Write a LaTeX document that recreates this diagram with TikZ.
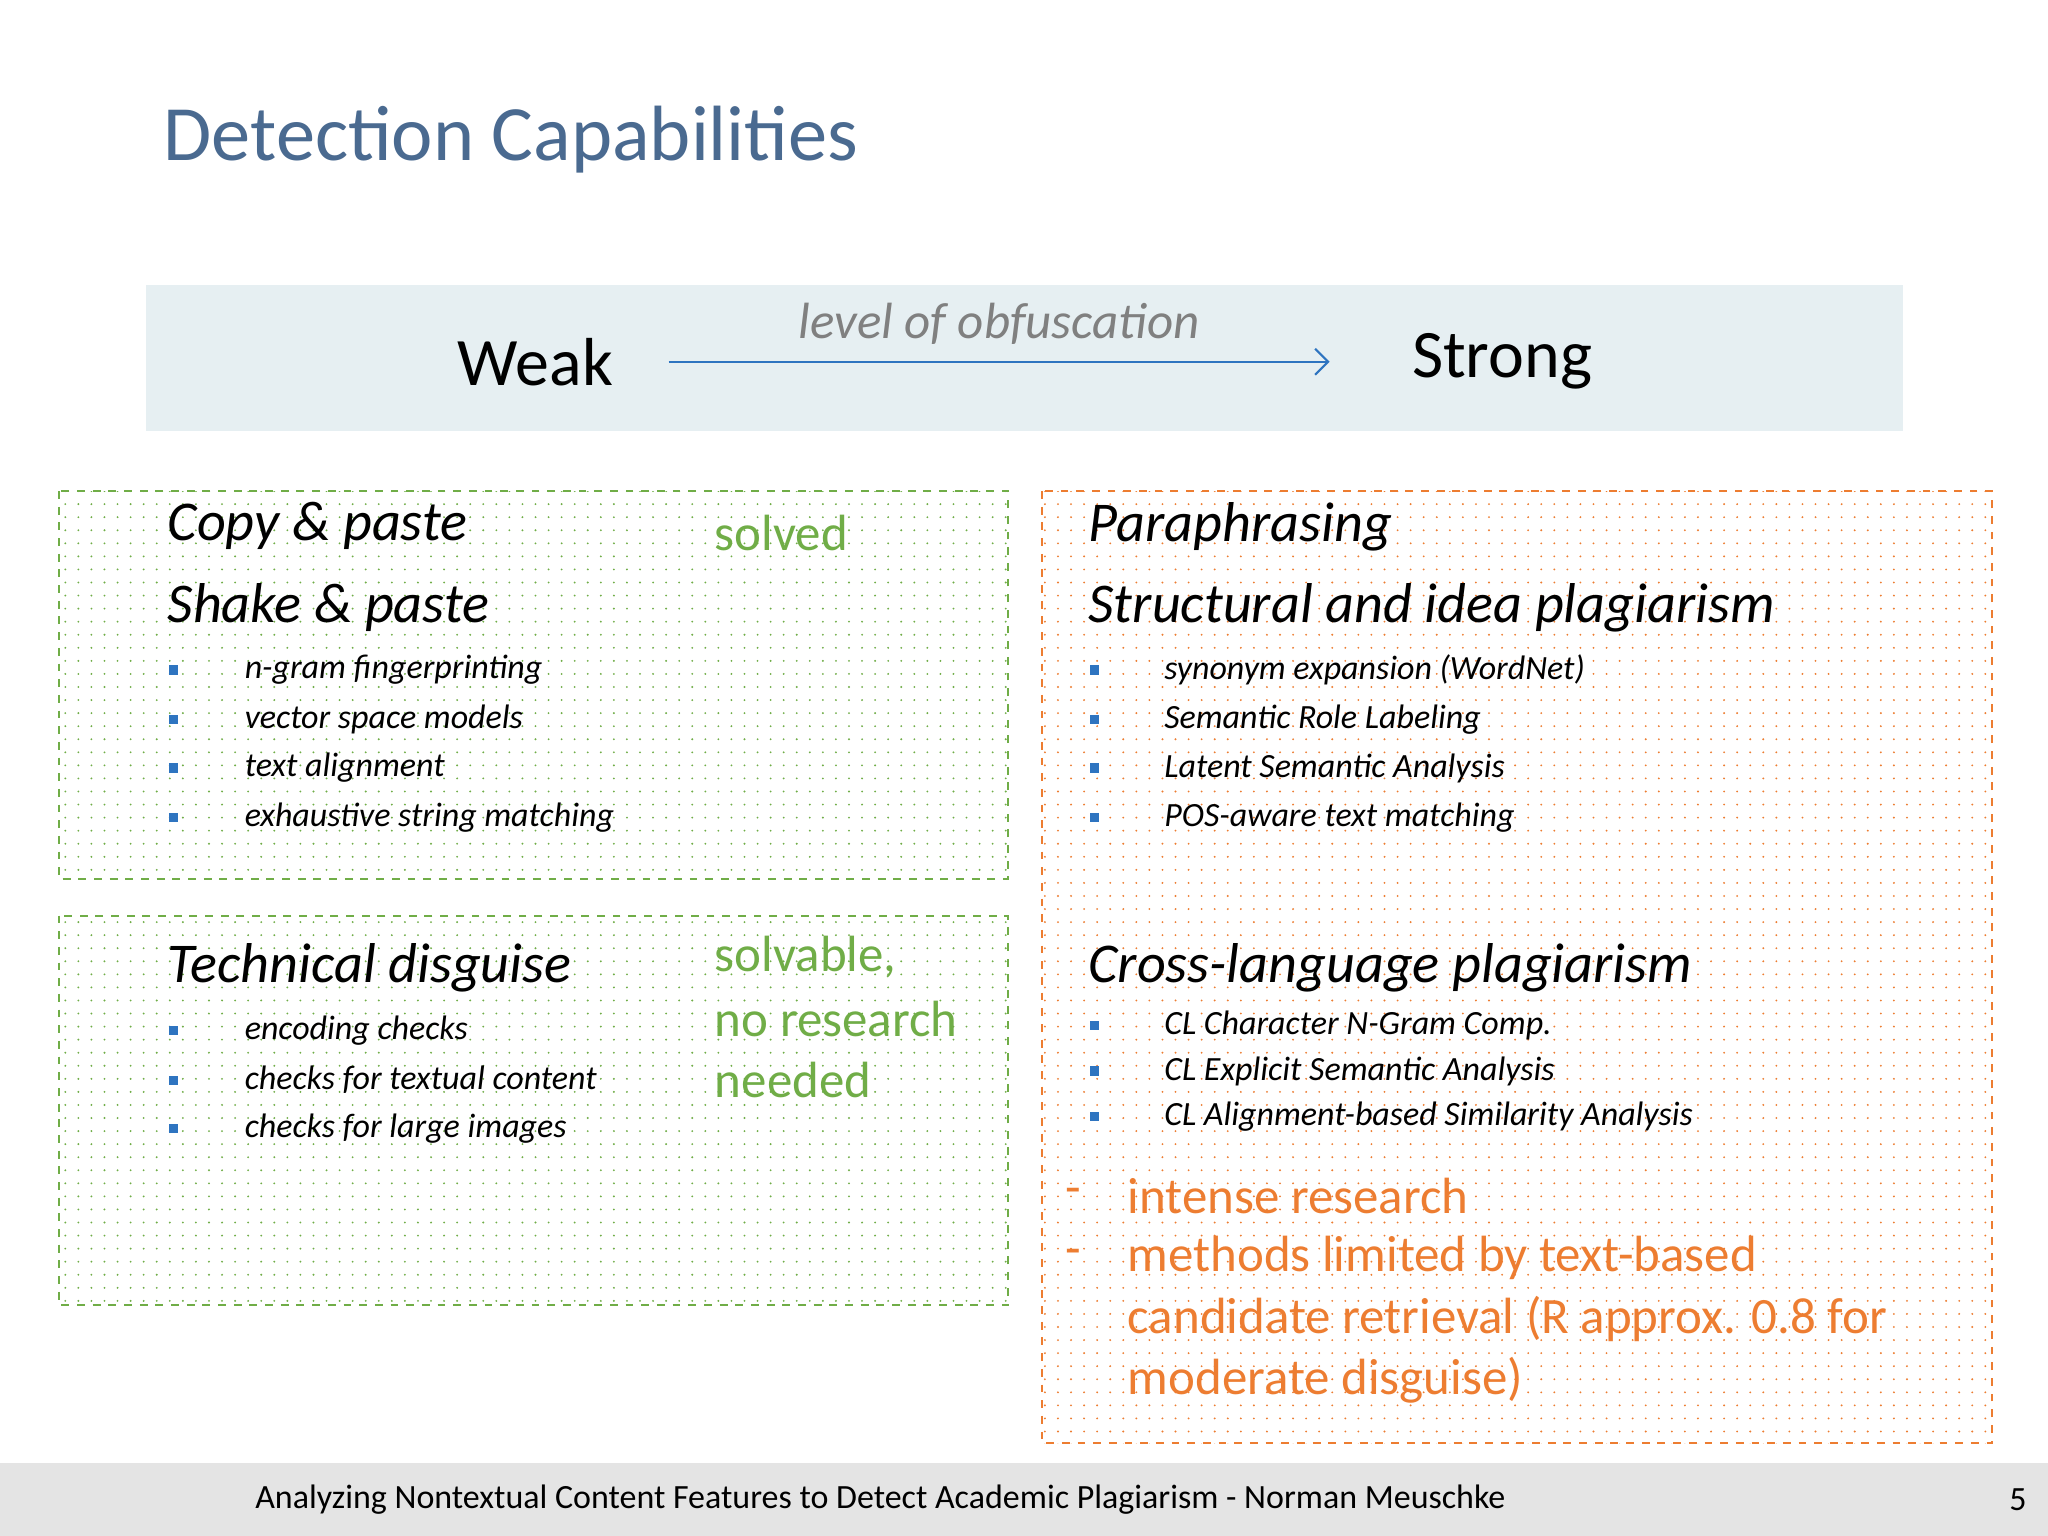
\documentclass[tikz,border=0pt]{standalone}
\usepackage{fontspec}
\setmainfont{Carlito}
\usetikzlibrary{patterns.meta,arrows.meta}
\definecolor{ttl}{HTML}{4A6A90}
\definecolor{band}{HTML}{E6EFF2}
\definecolor{arr}{HTML}{2E74C0}
\definecolor{grn}{HTML}{70AD47}
\definecolor{org}{HTML}{ED7D31}
\definecolor{foot}{HTML}{E4E4E4}
\begin{document}
\begin{tikzpicture}[x=0.5pt,y=-0.5pt,
  head/.style={anchor=west,font=\fontsize{21.5pt}{24pt}\selectfont\itshape,inner sep=0},
  item/.style={anchor=west,font=\fontsize{13pt}{15pt}\selectfont\itshape,inner sep=0},
  bul/.style={fill=arr,minimum size=3.5pt,inner sep=0},
  big/.style={anchor=west,font=\fontsize{19.5pt}{22pt}\selectfont,inner sep=0},
  gbox/.style={draw=grn,dashed,line width=0.7pt,pattern={Dots[distance=5pt,radius=0.4pt]},pattern color=grn},
  obox/.style={draw=org,dashed,line width=0.7pt,pattern={Dots[distance=5pt,radius=0.4pt]},pattern color=org}]
\useasboundingbox (0,0) rectangle (1568,1176);
\fill[white] (0,0) rectangle (1568,1176);
\node[anchor=west,inner sep=0,text=ttl,font=\fontsize{30pt}{34pt}\selectfont] (title) at (125,107) {Detection Capabilities};
\fill[band] (112,218) rectangle (1457,330);
\node[font=\fontsize{26pt}{30pt}\selectfont,inner sep=0] (weak) at (410,277) {Weak};
\node[font=\fontsize{26pt}{30pt}\selectfont,inner sep=0] (strong) at (1150,277) {Strong};
\coordinate (a1) at (512,277); \coordinate (a2) at (1018,277);
\draw[arr,line width=0.8pt,-{Straight Barb[length=5pt]}] (a1) -- (a2);
\node[text=gray,font=\fontsize{19.5pt}{22pt}\selectfont\itshape,inner sep=0] (lvl) at (765,248) {level of obfuscation};
\path[gbox] (45,376) rectangle (772,673);
\path[gbox] (45,701) rectangle (772,999);
\path[obox] (798,376) rectangle (1525,1105);
\node[head] (cp) at (128,403) {Copy \& paste};
\node[head] (sp) at (128,465) {Shake \& paste};
\foreach \y/\t [count=\i] in {513/n-gram fingerprinting,551/vector space models,588/text alignment,626/exhaustive string matching}{
  \node[bul] (lb\i) at (133,\y) {}; \node[item] (lt\i) at (187,\y) {\t};}
\node[big,text=grn] (solved) at (547,408) {solved};
\node[head] (td) at (128,741) {Technical disguise};
\foreach \y/\t [count=\i] in {789/encoding checks,827/checks for textual content,864/checks for large images}{
  \node[bul] (tb\i) at (133,\y) {}; \node[item] (tt\i) at (187,\y) {\t};}
\node[big,text=grn] (s1) at (547,733) {solvable,};
\node[big,text=grn] (s2) at (547,780) {no research};
\node[big,text=grn] (s3) at (547,827) {needed};
\node[head] (pp) at (833,403) {Paraphrasing};
\node[head] (st) at (833,465) {Structural and idea plagiarism};
\foreach \y/\t [count=\i] in {513/synonym expansion (WordNet),551/Semantic Role Labeling,588/Latent Semantic Analysis,626/POS-aware text matching}{
  \node[bul] (rb\i) at (838,\y) {}; \node[item] (rt\i) at (891,\y) {\t};}
\node[head] (cl) at (833,741) {Cross-language plagiarism};
\foreach \y/\t [count=\i] in {785/CL Character N-Gram Comp.,820/CL Explicit Semantic Analysis,855/CL Alignment-based Similarity Analysis}{
  \node[bul] (cb\i) at (838,\y) {}; \node[item] (ct\i) at (891,\y) {\t};}
\node[big,text=org] (d1) at (815,916) {-};
\node[big,text=org] (d2) at (815,963) {-};
\node[big,text=org] (o1) at (863,916) {intense research};
\node[big,text=org] (o2) at (863,963) {methods limited by text-based};
\node[big,text=org] (o3) at (863,1010) {candidate retrieval (R approx. 0.8 for};
\node[big,text=org] (o4) at (863,1057) {moderate disguise)};
\fill[foot] (0,1120) rectangle (1568,1176);
\node[font=\fontsize{13pt}{15pt}\selectfont,inner sep=0] (ft) at (674,1148) {Analyzing Nontextual Content Features to Detect Academic Plagiarism - Norman Meuschke};
\node[font=\fontsize{13pt}{15pt}\selectfont,inner sep=0] (pg) at (1545,1148) {5};
\end{tikzpicture}
\end{document}
